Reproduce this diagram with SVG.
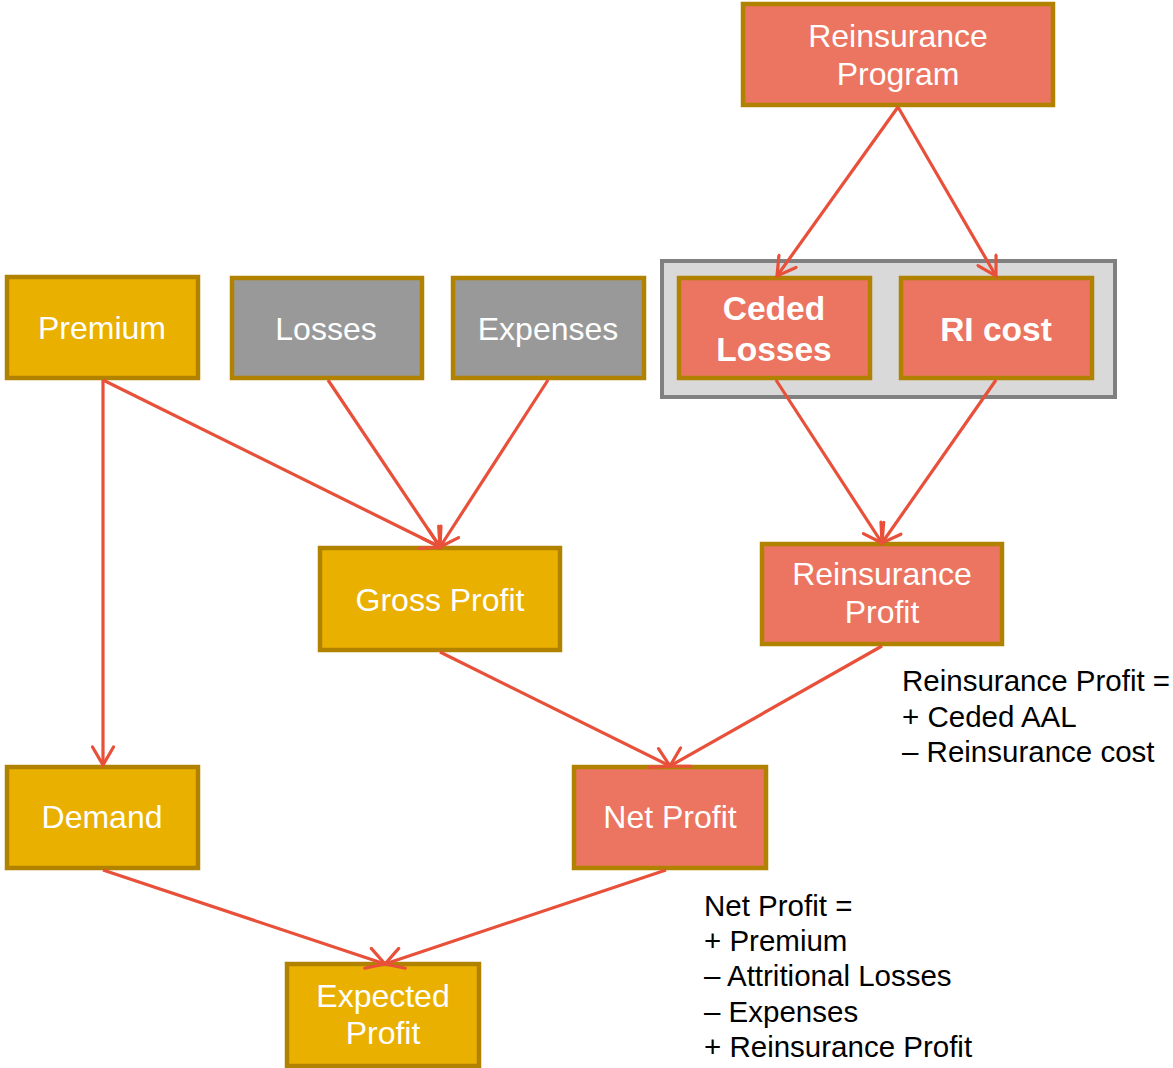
<svg xmlns="http://www.w3.org/2000/svg" width="1173" height="1068" viewBox="0 0 1173 1068">
  <style>
    .box { stroke: #B08200; stroke-width: 4.5; }
    .gold { fill: #EAB000; }
    .coral { fill: #EB7560; }
    .grey { fill: #999999; }
    .lbl { font-family: "Liberation Sans", Arial, sans-serif; font-size: 32px; fill: #FFFFFF; text-anchor: middle; }
    .bold { font-weight: bold; font-size: 33.5px; }
    .note { font-family: "Liberation Sans", Arial, sans-serif; font-size: 29.5px; fill: #000000; }
    .edge { stroke: #E8503A; stroke-width: 3.2; fill: none; marker-end: url(#arrow); }
  </style>
  <defs>
    <marker id="arrow" viewBox="0 0 24 24" refX="21" refY="12" markerWidth="24" markerHeight="24" markerUnits="userSpaceOnUse" orient="auto">
      <path d="M3,1.5 L21,12 L3,22.5" fill="none" stroke="#E8503A" stroke-width="3.2" stroke-linecap="round"/>
    </marker>
  </defs>
  <rect width="1173" height="1068" fill="#FFFFFF"/>

  <!-- container around the ceded-loss / RI-cost pair -->
  <g id="ri-group">
    <rect x="662" y="261" width="453" height="136" fill="#D9D9D9" stroke="#808080" stroke-width="4"/>
  </g>

  <g id="reinsurance-program">
    <rect class="box coral" x="743" y="4" width="310" height="101"/>
    <text class="lbl" x="898" y="47">Reinsurance</text>
    <text class="lbl" x="898" y="85">Program</text>
  </g>

  <g id="ceded-losses">
    <rect class="box coral" x="679" y="278" width="191" height="100"/>
    <text class="lbl bold" x="774" y="320">Ceded</text>
    <text class="lbl bold" x="774" y="361">Losses</text>
  </g>

  <g id="ri-cost">
    <rect class="box coral" x="901" y="278" width="191" height="100"/>
    <text class="lbl bold" x="996" y="341">RI cost</text>
  </g>

  <g id="premium">
    <rect class="box gold" x="7" y="277" width="191" height="101"/>
    <text class="lbl" x="102" y="339">Premium</text>
  </g>

  <g id="losses">
    <rect class="box grey" x="232" y="278" width="190" height="100"/>
    <text class="lbl" x="326" y="340">Losses</text>
  </g>

  <g id="expenses">
    <rect class="box grey" x="453" y="278" width="191" height="100"/>
    <text class="lbl" x="548" y="340">Expenses</text>
  </g>

  <g id="gross-profit">
    <rect class="box gold" x="320" y="548" width="240" height="102"/>
    <text class="lbl" x="440" y="611">Gross Profit</text>
  </g>

  <g id="reinsurance-profit">
    <rect class="box coral" x="762" y="544" width="240" height="100"/>
    <text class="lbl" x="882" y="585">Reinsurance</text>
    <text class="lbl" x="882" y="623">Profit</text>
  </g>

  <g id="demand">
    <rect class="box gold" x="7" y="767" width="191" height="101"/>
    <text class="lbl" x="102" y="828">Demand</text>
  </g>

  <g id="net-profit">
    <rect class="box coral" x="574" y="767" width="192" height="101"/>
    <text class="lbl" x="670" y="828">Net Profit</text>
  </g>

  <g id="expected-profit">
    <rect class="box gold" x="287" y="964" width="192" height="102"/>
    <text class="lbl" x="383" y="1007">Expected</text>
    <text class="lbl" x="383" y="1044">Profit</text>
  </g>

  <!-- formula notes -->
  <g id="reinsurance-profit-note">
    <text class="note" x="902" y="691">Reinsurance Profit =</text>
    <text class="note" x="902" y="727">+ Ceded AAL</text>
    <text class="note" x="902" y="762">– Reinsurance cost</text>
  </g>
  <g id="net-profit-note">
    <text class="note" x="704" y="916">Net Profit =</text>
    <text class="note" x="704" y="951">+ Premium</text>
    <text class="note" x="704" y="986">– Attritional Losses</text>
    <text class="note" x="704" y="1022">– Expenses</text>
    <text class="note" x="704" y="1057">+ Reinsurance Profit</text>
  </g>

  <g id="connectors">
    <line class="edge" x1="898" y1="107" x2="777" y2="276"/>
    <line class="edge" x1="898" y1="107" x2="996" y2="276"/>
    <line class="edge" x1="776" y1="380" x2="882" y2="543"/>
    <line class="edge" x1="996" y1="380" x2="882" y2="543"/>
    <line class="edge" x1="103" y1="380" x2="103" y2="765"/>
    <line class="edge" x1="103" y1="380" x2="440" y2="547"/>
    <line class="edge" x1="328" y1="380" x2="440" y2="547"/>
    <line class="edge" x1="548" y1="380" x2="440" y2="547"/>
    <line class="edge" x1="440" y1="652" x2="670" y2="766"/>
    <line class="edge" x1="882" y1="646" x2="670" y2="766"/>
    <line class="edge" x1="103" y1="870" x2="385" y2="964"/>
    <line class="edge" x1="666" y1="870" x2="385" y2="964"/>
  </g>
</svg>
